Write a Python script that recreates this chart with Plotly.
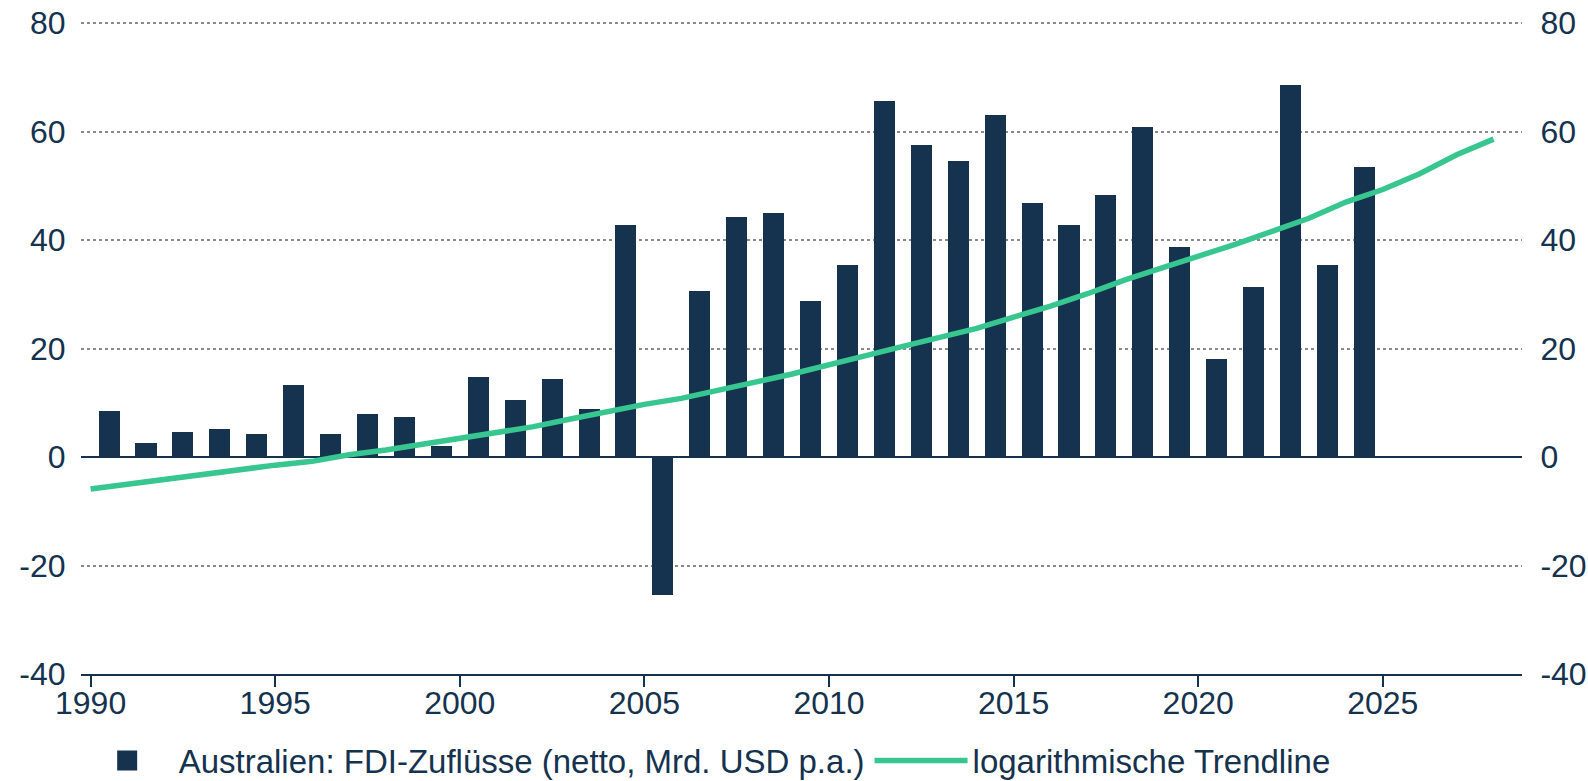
import plotly.graph_objects as go

years = list(range(1990, 2025))
fdi = [8.4, 2.5, 4.7, 5.1, 4.3, 13.2, 4.3, 8.0, 7.3, 2.1,
       14.7, 10.6, 14.3, 8.8, 42.8, -25.5, 30.6, 44.3, 45.0, 28.7,
       35.4, 65.7, 57.6, 54.6, 63.1, 46.9, 42.8, 48.3, 60.9, 38.7,
       18.0, 31.3, 68.6, 35.4, 53.5]

trend_years = list(range(1990, 2029))
trend = [-5.9, -5.0, -4.0, -3.2, -2.4, -1.5, -0.8, 0.4, 1.3, 2.4,
         3.6, 4.6, 5.6, 7.0, 8.4, 9.7, 10.8, 12.2, 13.8, 15.3,
         16.9, 18.7, 20.4, 22.0, 23.7, 25.8, 27.8, 30.1, 32.6, 34.8,
         36.9, 39.2, 41.6, 44.0, 47.0, 49.3, 52.2, 55.7, 58.6]

x_ticks = [1990, 1995, 2000, 2005, 2010, 2015, 2020, 2025]
y_ticks = [-40, -20, 0, 20, 40, 60, 80]
y_ticktext = ["-40", "-20", "0", "20", "40", "60", "80"]

bar_name = "Australien: FDI-Zuflüsse (netto, Mrd. USD p.a.)"
line_name = "logarithmische Trendline"

NAVY = "#15324f"
GREEN = "#38c690"
FONT = "Liberation Sans, Arial, sans-serif"
TICK_SIZE = 32

fig = go.Figure()
fig.add_trace(go.Bar(
    x=[y + 0.5 for y in years], y=fdi, name=bar_name,
    marker=dict(color=NAVY, line=dict(width=0)), width=0.57,
    legendgroup="fdi", showlegend=False,
))
# legend entry for the bars (larger square symbol than the default bar swatch)
fig.add_trace(go.Scatter(
    x=[None], y=[None], name=bar_name, mode="markers",
    marker=dict(symbol="square", size=16, color=NAVY,
                line=dict(width=4, color=NAVY)),
    legendgroup="fdi", showlegend=True, hoverinfo="skip",
))
fig.add_trace(go.Scatter(
    x=trend_years, y=trend, name=line_name, mode="lines",
    line=dict(color=GREEN, width=5.5),
))
# trace bound to the right-hand axis so it shows its labels
fig.add_trace(go.Scatter(x=trend_years, y=trend, yaxis="y2", mode="lines",
                         line=dict(width=0, color="rgba(0,0,0,0)"),
                         showlegend=False, hoverinfo="skip"))

fig.update_layout(
    width=1588, height=781,
    margin=dict(l=81, r=66, t=21, b=107, autoexpand=False),
    plot_bgcolor="white", paper_bgcolor="white",
    font=dict(family=FONT, color=NAVY, size=TICK_SIZE),
    bargap=0,
    showlegend=True,
    legend=dict(
        orientation="h", x=-0.0037, xanchor="left", y=-0.0896, yanchor="top",
        font=dict(size=33, color=NAVY), itemwidth=93,
        bgcolor="rgba(0,0,0,0)", traceorder="normal",
    ),
    xaxis=dict(
        range=[1989.74, 2028.77], tickvals=x_ticks,
        ticktext=[str(v) for v in x_ticks],
        showgrid=False, zeroline=False, automargin=False,
        showline=True, linecolor=NAVY, linewidth=2,
        ticks="outside", ticklen=11, tickwidth=2, tickcolor=NAVY,
        ticklabelstandoff=-11, ticklabeloverflow="allow",
        tickfont=dict(size=TICK_SIZE, color=NAVY),
    ),
    yaxis=dict(
        range=[-40, 80.37], tickvals=y_ticks, ticktext=y_ticktext,
        showgrid=True, gridcolor="#8a8a8a", griddash="dot", gridwidth=1.5,
        zeroline=True, zerolinecolor=NAVY, zerolinewidth=2,
        showline=False, automargin=False, ticklabeloverflow="allow",
        ticks="outside", ticklen=8, tickcolor="rgba(0,0,0,0)",
        tickfont=dict(size=TICK_SIZE, color=NAVY),
    ),
    yaxis2=dict(
        range=[-40, 80.37], tickvals=y_ticks, ticktext=y_ticktext,
        overlaying="y", side="right", automargin=False,
        ticklabeloverflow="allow",
        showgrid=False, zeroline=False, showline=False,
        ticks="outside", ticklen=11, tickcolor="rgba(0,0,0,0)",
        tickfont=dict(size=TICK_SIZE, color=NAVY),
    ),
)

fig.write_html("out.html", config={"displayModeBar": False},
               post_script="document.body.style.margin='0';")
